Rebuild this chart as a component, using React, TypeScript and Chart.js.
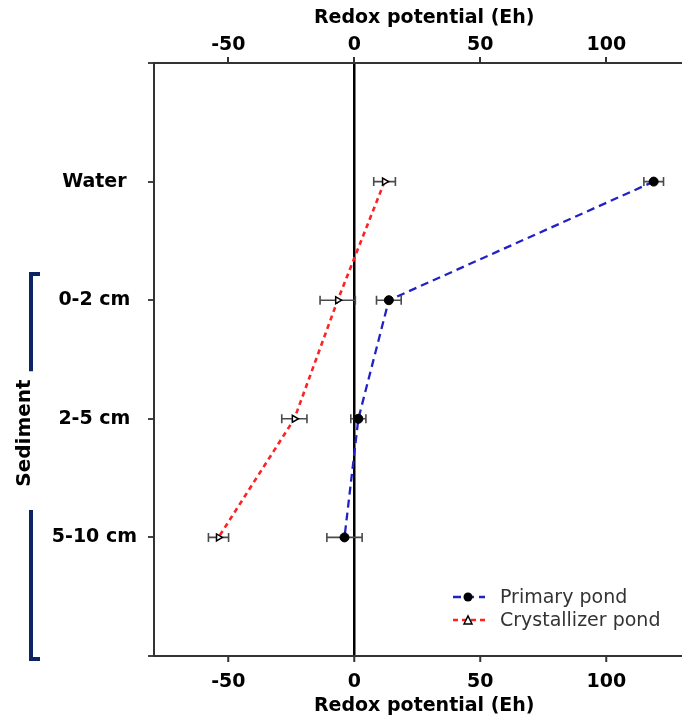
import React, { useEffect, useRef } from 'react';
import { Chart, registerables } from 'chart.js';

Chart.register(...registerables);

const depthLabels = ['Water', '0-2 cm', '2-5 cm', '5-10 cm'];
const depthPositions = [1, 2, 3, 4];
const primaryPond = [118.8, 13.7, 1.6, -3.9];
const primaryErr = [3.9, 4.9, 3.0, 7.0];
const crystallizerPond = [12.0, -6.6, -23.8, -53.9];
const crystallizerErr = [4.3, 7.0, 5.0, 4.0];
const xTickValues = [-50, 0, 50, 100];
const yTickValues = [0, 1, 2, 3, 4, 5];
const seriesNames = ['Primary pond', 'Crystallizer pond'];
const groupLabel = 'Sediment';
const axisTitle = 'Redox potential (Eh)';

const BOLD = { family: '"DejaVu Sans", Verdana, sans-serif', size: 19, weight: 'bold' as const };

const errorBarPlugin = {
  id: 'errorBars',
  beforeDatasetsDraw(chart: any) {
    const ctx = chart.ctx;
    const xs = chart.scales.x;
    chart.data.datasets.forEach((ds: any, i: number) => {
      const meta = chart.getDatasetMeta(i);
      const errs: number[] = ds.errors || [];
      meta.data.forEach((pt: any, j: number) => {
        const v = ds.data[j].x;
        const e = errs[j] || 0;
        const x1 = xs.getPixelForValue(v - e);
        const x2 = xs.getPixelForValue(v + e);
        const y = pt.y;
        ctx.save();
        ctx.strokeStyle = '#4a4a4a';
        ctx.lineWidth = 1.6;
        ctx.beginPath();
        ctx.moveTo(x1, y);
        ctx.lineTo(x2, y);
        ctx.moveTo(x1, y - 4.5);
        ctx.lineTo(x1, y + 4.5);
        ctx.moveTo(x2, y - 4.5);
        ctx.lineTo(x2, y + 4.5);
        ctx.stroke();
        ctx.restore();
      });
    });
  },
};

const decorPlugin = {
  id: 'decor',
  afterDraw(chart: any) {
    const ctx = chart.ctx;
    const ys = chart.scales.y;
    const area = chart.chartArea;
    // Sediment bracket
    ctx.save();
    ctx.strokeStyle = '#0c2461';
    ctx.lineWidth = 4;
    ctx.lineCap = 'butt';
    const bx = 31;
    const yTop = ys.getPixelForValue(1.78);
    const yGap1 = ys.getPixelForValue(2.6);
    const yGap2 = ys.getPixelForValue(3.77);
    const yBot = area.bottom + 3;
    ctx.beginPath();
    ctx.moveTo(40, yTop);
    ctx.lineTo(bx, yTop);
    ctx.lineTo(bx, yGap1);
    ctx.moveTo(bx, yGap2);
    ctx.lineTo(bx, yBot);
    ctx.lineTo(40, yBot);
    ctx.stroke();
    ctx.restore();

    ctx.save();
    ctx.translate(25, ys.getPixelForValue(3.12));
    ctx.rotate(-Math.PI / 2);
    ctx.font = 'bold 20px "DejaVu Sans", Verdana, sans-serif';
    ctx.fillStyle = '#000';
    ctx.textAlign = 'center';
    ctx.textBaseline = 'middle';
    ctx.fillText(groupLabel, 0, 0);
    ctx.restore();

    // Legend inside plot area (bottom right)
    const lx = area.left + 299;
    const rows = [area.bottom - 59, area.bottom - 36];
    chart.data.datasets.forEach((ds: any, i: number) => {
      const y = rows[i];
      ctx.save();
      ctx.strokeStyle = ds.borderColor;
      ctx.lineWidth = ds.borderWidth;
      ctx.setLineDash(ds.borderDash);
      ctx.beginPath();
      ctx.moveTo(lx, y);
      ctx.lineTo(lx + 32, y);
      ctx.stroke();
      ctx.setLineDash([]);
      ctx.restore();
      ctx.save();
      const mx = lx + 15;
      if (ds.pointStyle === 'circle') {
        ctx.fillStyle = '#000';
        ctx.beginPath();
        ctx.arc(mx, y, 4.5, 0, Math.PI * 2);
        ctx.fill();
      } else {
        ctx.fillStyle = '#fff';
        ctx.strokeStyle = '#000';
        ctx.lineWidth = 1.5;
        ctx.beginPath();
        ctx.moveTo(mx - 4, y + 4);
        ctx.lineTo(mx, y - 4);
        ctx.lineTo(mx + 4, y + 4);
        ctx.closePath();
        ctx.fill();
        ctx.stroke();
      }
      ctx.fillStyle = '#333';
      ctx.font = '19px "DejaVu Sans", sans-serif';
      ctx.textAlign = 'left';
      ctx.textBaseline = 'middle';
      ctx.fillText(ds.label, lx + 47, y + 1);
      ctx.restore();
    });
  },
};

export default function App() {
  const ref = useRef<HTMLCanvasElement | null>(null);

  useEffect(() => {
    if (!ref.current) return;
    const chart = new Chart(ref.current, {
      type: 'scatter',
      data: {
        datasets: [
          {
            label: seriesNames[0],
            data: primaryPond.map((x, i) => ({ x, y: depthPositions[i] })),
            errors: primaryErr,
            showLine: true,
            borderColor: '#2222c4',
            borderWidth: 2.3,
            borderDash: [8, 5],
            pointStyle: 'circle',
            pointRadius: 4.5,
            pointBackgroundColor: '#000',
            pointBorderColor: '#000',
            pointBorderWidth: 1,
          } as any,
          {
            label: seriesNames[1],
            data: crystallizerPond.map((x, i) => ({ x, y: depthPositions[i] })),
            errors: crystallizerErr,
            showLine: true,
            borderColor: '#ff2222',
            borderWidth: 2.6,
            borderDash: [5, 4],
            pointStyle: 'triangle',
            rotation: 90,
            pointRadius: 4,
            pointBackgroundColor: '#fff',
            pointBorderColor: '#000',
            pointBorderWidth: 1.5,
          } as any,
        ],
      },
      options: {
        responsive: false,
        animation: false,
        devicePixelRatio: 1,
        layout: { padding: 0 },
        plugins: {
          legend: { display: false },
          tooltip: { enabled: false },
        },
        scales: {
          x: {
            type: 'linear',
            position: 'bottom',
            min: -79.5,
            max: 135,
            afterBuildTicks: (s: any) => {
              s.ticks = xTickValues.map((value) => ({ value }));
            },
            afterFit: (s: any) => {
              s.height = 66;
            },
            ticks: {
              font: BOLD,
              color: '#000',
              padding: 9,
              maxRotation: 0,
              autoSkip: false,
            },
            grid: {
              drawOnChartArea: true,
              color: (c: any) => (c.tick && c.tick.value === 0 ? '#000' : 'rgba(0,0,0,0)'),
              lineWidth: 2.5,
              tickColor: '#333',
              tickLength: 6,
              tickWidth: 2,
            },
            border: { display: true, color: '#333', width: 2 },
            title: {
              display: true,
              text: axisTitle,
              font: BOLD,
              color: '#000',
              padding: { top: 0, bottom: 5 },
            },
          },
          x2: {
            type: 'linear',
            position: 'top',
            min: -79.5,
            max: 135,
            afterBuildTicks: (s: any) => {
              s.ticks = xTickValues.map((value) => ({ value }));
            },
            afterFit: (s: any) => {
              s.height = 63;
            },
            ticks: {
              font: BOLD,
              color: '#000',
              padding: 1,
              maxRotation: 0,
              autoSkip: false,
            },
            grid: {
              drawOnChartArea: false,
              tickColor: '#333',
              tickLength: 6,
              lineWidth: 2,
            },
            border: { display: true, color: '#333', width: 2 },
            title: {
              display: true,
              text: axisTitle,
              font: BOLD,
              color: '#000',
              padding: { top: 7, bottom: 0 },
            },
          },
          y: {
            type: 'linear',
            position: 'left',
            min: 0,
            max: 5,
            reverse: true,
            afterBuildTicks: (s: any) => {
              s.ticks = yTickValues.map((value) => ({ value }));
            },
            afterFit: (s: any) => {
              s.width = 154;
            },
            ticks: {
              font: BOLD,
              color: '#000',
              padding: 11,
              crossAlign: 'center',
              autoSkip: false,
              callback: (v: any) => {
                const idx = depthPositions.indexOf(Number(v));
                return idx >= 0 ? depthLabels[idx] : '';
              },
            },
            grid: {
              drawOnChartArea: false,
              tickColor: '#444',
              tickLength: 6,
              lineWidth: 2,
            },
            border: { display: true, color: '#333', width: 2 },
          },
        },
      } as any,
      plugins: [errorBarPlugin, decorPlugin],
    });
    return () => chart.destroy();
  }, []);

  return (
    <div
      style={{
        position: 'absolute',
        left: 0,
        top: 0,
        width: 682,
        height: 722,
        overflow: 'hidden',
        background: '#fff',
      }}
    >
      <canvas ref={ref} width={700} height={722} style={{ display: 'block' }} />
    </div>
  );
}
